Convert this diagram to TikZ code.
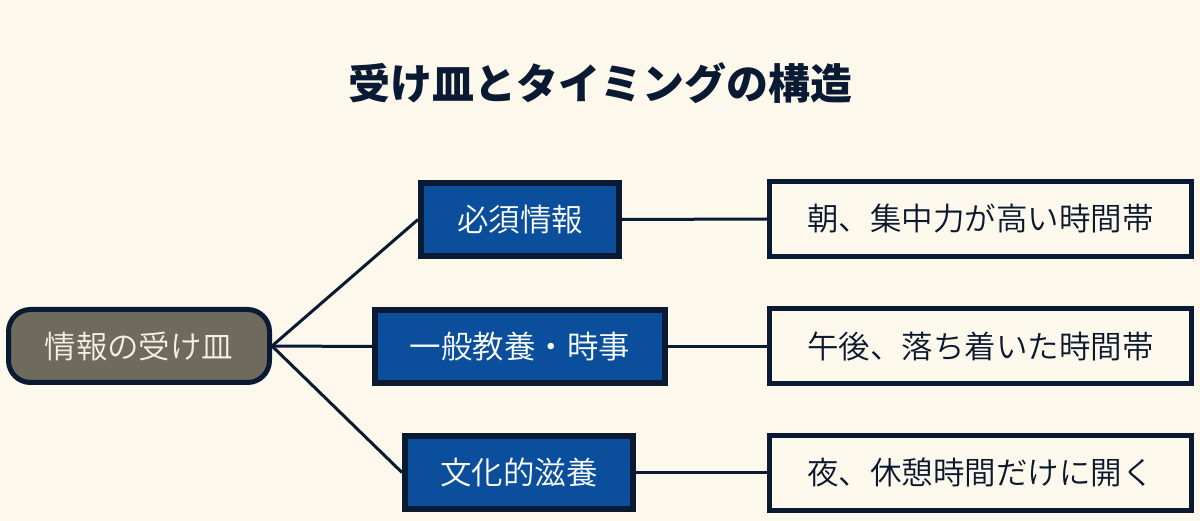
\documentclass[tikz,border=0pt]{standalone}
\usepackage{fontspec}
\newfontfamily\cjk{Noto Sans CJK JP}[UprightFont=* DemiLight]
\newfontfamily\cjktitle{Noto Sans CJK JP}[UprightFont=* Black]
\definecolor{bg}{HTML}{FDF8EC}
\definecolor{navy}{HTML}{0B1A33}
\definecolor{midblue}{HTML}{0B4F9C}
\definecolor{rootfill}{HTML}{6E6A5C}
\definecolor{roottext}{HTML}{F5F0E0}
\tikzset{
  rootbox/.style={draw=navy, line width=5pt, fill=rootfill, rounded corners=22pt,
    minimum width=261pt, minimum height=73pt, inner sep=0pt, text=roottext,
    font=\cjk\fontsize{31.5pt}{34pt}\selectfont},
  midbox/.style={draw=navy, line width=6pt, fill=midblue, minimum height=73pt,
    inner sep=0pt, text=white, font=\cjk\fontsize{31.5pt}{34pt}\selectfont},
  rightbox/.style={draw=navy, line width=5pt, fill=bg, minimum width=422pt,
    minimum height=75pt, inner sep=0pt, text=navy!90!black,
    font=\cjk\fontsize{31.5pt}{34pt}\selectfont},
  conn/.style={draw=navy, line width=3pt}
}
\begin{document}
\begin{tikzpicture}[x=1pt,y=-1pt]
\fill[bg] (0,0) rectangle (1200,521);
\useasboundingbox (0,0) rectangle (1200,521);
\node[font=\cjktitle\fontsize{42pt}{46pt}\selectfont, text=navy] (title) at (600,83) {受け皿とタイミングの構造};
\node[rootbox] (root) at (139,346) {情報の受け皿};
\node[midbox, minimum width=198pt] (m1) at (520,219.5) {必須情報};
\node[midbox, minimum width=290pt] (m2) at (520,346.5) {一般教養・時事};
\node[midbox, minimum width=228pt] (m3) at (519,472.5) {文化的滋養};
\node[rightbox] (r1) at (980.5,219) {朝、集中力が高い時間帯};
\node[rightbox] (r2) at (980.5,346.5) {午後、落ち着いた時間帯};
\node[rightbox] (r3) at (980.5,472.5) {夜、休憩時間だけに開く};
\draw[conn] (root.east) -- (m1.west);
\draw[conn] (root.east) -- (m2.west);
\draw[conn] (root.east) -- (m3.west);
\draw[conn] (m1.east) -- (r1.west);
\draw[conn] (m2.east) -- (r2.west);
\draw[conn] (m3.east) -- (r3.west);
\end{tikzpicture}
\end{document}
